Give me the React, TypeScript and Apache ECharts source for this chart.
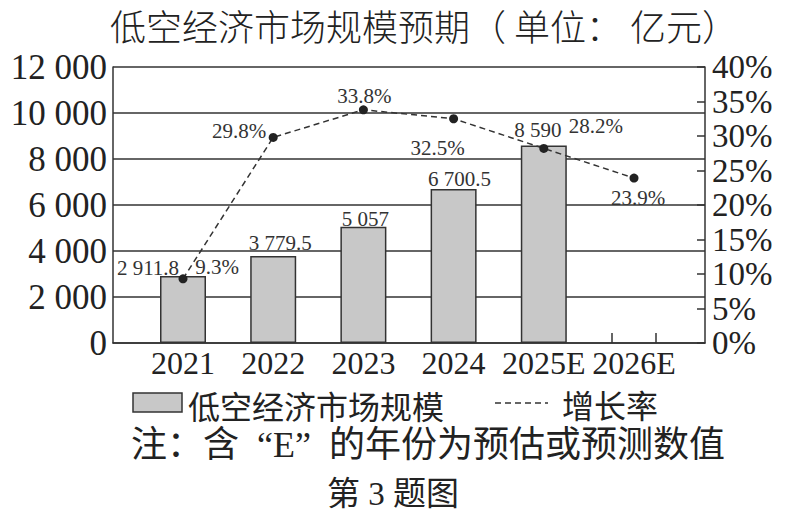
import React, { useEffect, useRef } from 'react';
import * as echarts from 'echarts';

const categories = ['2021', '2022', '2023', '2024', '2025E', '2026E'];
const marketSize: (number | null)[] = [2911.8, 3779.5, 5057, 6700.5, 8590, null];
const growthRate = [9.3, 29.8, 33.8, 32.5, 28.2, 23.9];
const leftAxis = { min: 0, max: 12000, interval: 2000 };
const rightAxis = { min: 0, max: 40, interval: 5 };

const titleText = '低空经济市场规模预期（ 单位： 亿元）';
const barName = '低空经济市场规模';
const lineName = '增长率';
const noteText = '注：含  “E”  的年份为预估或预测数值';
const captionText = '第 3 题图';

const SERIF = '"Liberation Serif", "Noto Sans CJK SC", serif';
const CJK = '"Noto Sans CJK SC", sans-serif';
const INK = '#222';
const LINE = '#333';

function fmt(v: number): string {
  const [i, d] = String(v).split('.');
  const s = i.replace(/\B(?=(\d{3})+(?!\d))/g, ' ');
  return d ? s + '.' + d : s;
}

export default function App() {
  const ref = useRef<HTMLDivElement>(null);
  useEffect(() => {
    const chart = echarts.init(ref.current!, null, { renderer: 'svg' });
    // label placement (layout only)
    const barLabelOffsets = [[-35, 2], [7, -3], [2, 3], [6, 1], [-6, -5], [0, 0]];
    const lineLabelOffsets = [[34, -12], [-34, -6], [1, -14], [-16, 29], [52, -22], [4, 20]];

    const axisLine = { show: true, lineStyle: { color: LINE, width: 1.5 } };
    const option: any = {
      animation: false,
      backgroundColor: '#fff',
      title: {
        text: titleText,
        left: 105,
        top: 2,
        textStyle: { fontFamily: CJK, fontSize: 36, fontWeight: 300, color: INK },
      },
      grid: [
        { left: 113, right: 81, top: 67, bottom: 170 },
        { left: 183, right: 152, top: 67, bottom: 170 },
      ],
      xAxis: [
        {
          gridIndex: 0, type: 'category', data: categories,
          axisLine, axisTick: { show: false }, axisLabel: { show: false },
        },
        {
          gridIndex: 1, type: 'category', boundaryGap: false, data: categories,
          axisLine: { show: false }, axisTick: { show: false },
          axisLabel: { interval: 0, hideOverlap: false, fontFamily: SERIF, fontSize: 32, color: INK, margin: 4 },
        },
      ],
      yAxis: [
        {
          gridIndex: 0, type: 'value', ...leftAxis,
          axisLine, axisTick: { show: false },
          splitLine: { show: true, lineStyle: { color: LINE, width: 1.5 } },
          axisLabel: { formatter: (v: number) => fmt(v), fontFamily: SERIF, fontSize: 35, color: INK, margin: 6 },
        },
        {
          gridIndex: 0, type: 'value', position: 'right', ...rightAxis,
          axisLine, axisTick: { show: true, inside: true, length: 8, lineStyle: { color: LINE, width: 1.5 } },
          splitLine: { show: false },
          axisLabel: {
            formatter: '{value}%', fontFamily: SERIF, fontSize: 33, color: INK, margin: 7,
            showMinLabel: true, showMaxLabel: true,
          },
        },
        { gridIndex: 1, type: 'value', ...leftAxis, show: false },
        { gridIndex: 1, type: 'value', ...rightAxis, show: false },
      ],
      series: [
        {
          name: barName,
          type: 'bar',
          xAxisIndex: 1,
          yAxisIndex: 2,
          barWidth: 46,
          data: marketSize.map((v, i) => (v == null ? null : { value: v, label: { offset: barLabelOffsets[i] } })),
          itemStyle: { color: '#c8c8c8', borderColor: LINE, borderWidth: 1.5 },
          label: {
            show: true, position: 'top', distance: 0,
            formatter: (p: any) => fmt(p.value),
            fontFamily: SERIF, fontSize: 21, color: '#333',
          },
          z: 2,
        },
        {
          name: lineName,
          type: 'line',
          xAxisIndex: 1,
          yAxisIndex: 3,
          data: growthRate.map((v, i) => ({ value: v, label: { offset: lineLabelOffsets[i] } })),
          symbol: 'circle',
          symbolSize: 9,
          itemStyle: { color: INK },
          lineStyle: { color: LINE, width: 1.5, type: [6, 4] },
          label: {
            show: true, position: 'inside',
            formatter: (p: any) => p.value + '%',
            fontFamily: SERIF, fontSize: 21, color: '#333',
          },
          z: 3,
        },
      ],
      graphic: [
        { type: 'line', shape: { x1: 612, y1: 343, x2: 612, y2: 333 }, style: { stroke: LINE, lineWidth: 1.5 } },
        { type: 'line', shape: { x1: 656, y1: 343, x2: 656, y2: 333 }, style: { stroke: LINE, lineWidth: 1.5 } },
        { type: 'rect', shape: { x: 133, y: 393, width: 49, height: 19 }, style: { fill: '#c8c8c8', stroke: LINE, lineWidth: 1.5 } },
        { type: 'text', x: 188, y: 405, style: { text: barName, fontFamily: CJK, fontSize: 32, fill: INK, verticalAlign: 'middle', align: 'left' } },
        { type: 'line', shape: { x1: 495, y1: 403, x2: 548, y2: 403 }, style: { stroke: LINE, lineWidth: 1.5, lineDash: [6, 4] } },
        { type: 'text', x: 562, y: 404, style: { text: lineName, fontFamily: CJK, fontSize: 32, fill: INK, verticalAlign: 'middle', align: 'left' } },
        { type: 'text', x: 131, y: 445, style: { text: noteText, fontFamily: SERIF, fontSize: 36, fill: INK, verticalAlign: 'middle', align: 'left' } },
        { type: 'text', x: 327, y: 494, style: { text: captionText, fontFamily: SERIF, fontSize: 33, fill: INK, verticalAlign: 'middle', align: 'left' } },
      ],
    };
    chart.setOption(option);
    return () => chart.dispose();
  }, []);
  return (
    <div
      ref={ref}
      style={{ position: 'fixed', left: 0, top: 0, width: 786, height: 513, background: '#fff' }}
    />
  );
}
